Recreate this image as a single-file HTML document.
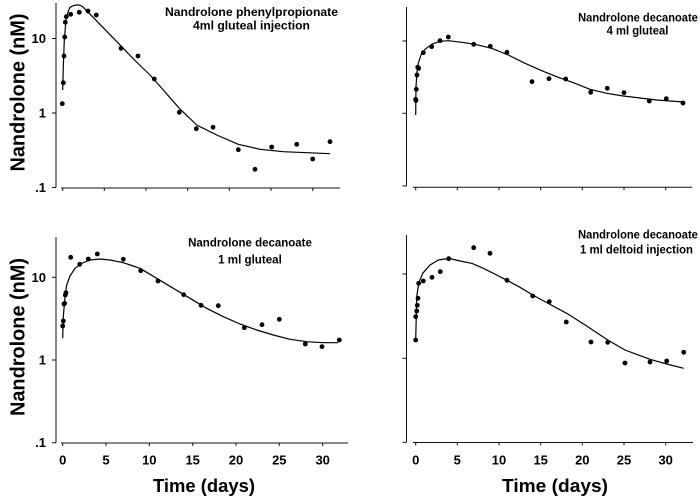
<!DOCTYPE html>
<html>
<head>
<meta charset="utf-8">
<style>
  html, body { margin: 0; padding: 0; background: #ffffff; }
  svg { display: block; }
  text { font-family: "Liberation Sans", Arial, sans-serif; font-weight: bold; fill: #000; }
</style>
</head>
<body>
<svg width="700" height="501" viewBox="0 0 700 501" xmlns="http://www.w3.org/2000/svg">
  <rect x="0" y="0" width="700" height="501" fill="#fff"/>

  <!-- ================= TOP LEFT ================= -->
  <g stroke="#111" stroke-width="1" fill="none">
    <line x1="56" y1="3" x2="56" y2="187.5"/>
    <line x1="52" y1="38.5" x2="56" y2="38.5"/>
    <line x1="52" y1="113" x2="56" y2="113"/>
    <line x1="52" y1="187.5" x2="56" y2="187.5"/>
    <line x1="61" y1="188" x2="340" y2="188"/>
    <line x1="62.7" y1="188" x2="62.7" y2="191"/>
    <line x1="104.3" y1="188" x2="104.3" y2="191"/>
    <line x1="146" y1="188" x2="146" y2="191"/>
    <line x1="187.7" y1="188" x2="187.7" y2="191"/>
    <line x1="229.3" y1="188" x2="229.3" y2="191"/>
    <line x1="271" y1="188" x2="271" y2="191"/>
    <line x1="312.7" y1="188" x2="312.7" y2="191"/>
  </g>
  <text x="46" y="43" font-size="13" text-anchor="end">10</text>
  <text x="46" y="117.5" font-size="13" text-anchor="end">1</text>
  <text x="46" y="192" font-size="13" text-anchor="end">.1</text>
  <text transform="translate(24.5,92.5) rotate(-90)" font-size="20" text-anchor="middle" textLength="158" lengthAdjust="spacingAndGlyphs">Nandrolone (nM)</text>
  <text x="251.5" y="16" font-size="12" text-anchor="middle" textLength="173" lengthAdjust="spacingAndGlyphs">Nandrolone phenylpropionate</text>
  <text x="251.5" y="29.6" font-size="12" text-anchor="middle" textLength="117" lengthAdjust="spacingAndGlyphs">4ml gluteal injection</text>
  <polyline fill="none" stroke="#000" stroke-width="1.2" stroke-linejoin="round" points="62.7,90 63.3,66.7 64.3,40 66,20 68.3,11 70,7.3 73.3,5.7 76.5,5 79.3,5 81.5,6 83.3,7.3 96.3,20.6 110,34.7 121.7,46.7 135,60.5 150,75 163.3,90 179.3,108.3 196.7,125 216.7,135 238.3,144.3 260,149.3 283.3,151.7 306.7,152.7 330,153.7"/>
  <g fill="#000">
    <circle cx="62.3" cy="103.7" r="2.4"/><circle cx="63.3" cy="82.7" r="2.4"/>
    <circle cx="64" cy="56" r="2.4"/><circle cx="64.7" cy="37" r="2.4"/>
    <circle cx="65.3" cy="22.3" r="2.4"/><circle cx="66.3" cy="16.7" r="2.4"/>
    <circle cx="70.7" cy="14.3" r="2.4"/><circle cx="79.3" cy="12.3" r="2.4"/>
    <circle cx="88" cy="11" r="2.4"/><circle cx="96.3" cy="15" r="2.4"/>
    <circle cx="121" cy="48.3" r="2.4"/><circle cx="138" cy="56" r="2.4"/>
    <circle cx="154.3" cy="79" r="2.4"/><circle cx="179.3" cy="112.3" r="2.4"/>
    <circle cx="196.3" cy="128.7" r="2.4"/><circle cx="213" cy="127.3" r="2.4"/>
    <circle cx="238.3" cy="149.7" r="2.4"/><circle cx="255" cy="169.3" r="2.4"/>
    <circle cx="271.7" cy="147" r="2.4"/><circle cx="296.7" cy="144.3" r="2.4"/>
    <circle cx="312.7" cy="159" r="2.4"/><circle cx="330" cy="141.7" r="2.4"/>
  </g>

  <!-- ================= TOP RIGHT ================= -->
  <g stroke="#111" stroke-width="1" fill="none">
    <line x1="406.5" y1="7" x2="406.5" y2="186"/>
    <line x1="402.5" y1="41" x2="406.5" y2="41"/>
    <line x1="402.5" y1="113.3" x2="406.5" y2="113.3"/>
    <line x1="402.5" y1="186" x2="406.5" y2="186"/>
    <line x1="413" y1="187.3" x2="692" y2="187.3"/>
    <line x1="415.7" y1="187.3" x2="415.7" y2="190.3"/>
    <line x1="457.3" y1="187.3" x2="457.3" y2="190.3"/>
    <line x1="499" y1="187.3" x2="499" y2="190.3"/>
    <line x1="540.7" y1="187.3" x2="540.7" y2="190.3"/>
    <line x1="582.3" y1="187.3" x2="582.3" y2="190.3"/>
    <line x1="624" y1="187.3" x2="624" y2="190.3"/>
    <line x1="665.7" y1="187.3" x2="665.7" y2="190.3"/>
  </g>
  <text x="638" y="21.3" font-size="12" text-anchor="middle" textLength="119.7" lengthAdjust="spacingAndGlyphs">Nandrolone decanoate</text>
  <text x="637.5" y="34.6" font-size="12" text-anchor="middle" textLength="61.7" lengthAdjust="spacingAndGlyphs">4 ml gluteal</text>
  <polyline fill="none" stroke="#000" stroke-width="1.2" stroke-linejoin="round" points="415.7,115 416,86.7 417,71.7 418.3,63.3 421,55 425,49.3 431.7,44.3 440,41.3 448.3,40.7 461.7,42.3 475,44.3 491.7,48.3 508.3,55 525,63.3 541.7,70.7 558.3,77.3 575,83.3 590,89.3 606.7,93.3 623.3,96 640,98 656.7,100 683.3,102"/>
  <g fill="#000">
    <circle cx="415.7" cy="99.3" r="2.4"/><circle cx="416" cy="100.5" r="2.4"/>
    <circle cx="416.3" cy="89.3" r="2.4"/><circle cx="417" cy="75" r="2.4"/>
    <circle cx="417.7" cy="67.3" r="2.4"/><circle cx="418.7" cy="68.3" r="2.4"/>
    <circle cx="423.3" cy="52.7" r="2.4"/><circle cx="431.7" cy="46.7" r="2.4"/>
    <circle cx="440" cy="40.7" r="2.4"/><circle cx="448.3" cy="37" r="2.4"/>
    <circle cx="473.7" cy="44.3" r="2.4"/><circle cx="490.3" cy="46.3" r="2.4"/>
    <circle cx="507" cy="52.3" r="2.4"/><circle cx="532" cy="81.7" r="2.4"/>
    <circle cx="549" cy="78.7" r="2.4"/><circle cx="565.7" cy="79" r="2.4"/>
    <circle cx="590.7" cy="92.3" r="2.4"/><circle cx="607.3" cy="88.3" r="2.4"/>
    <circle cx="624" cy="92.7" r="2.4"/><circle cx="649.3" cy="101" r="2.4"/>
    <circle cx="666.3" cy="98.7" r="2.4"/><circle cx="683" cy="103" r="2.4"/>
  </g>

  <!-- ================= BOTTOM LEFT ================= -->
  <g stroke="#111" stroke-width="1" fill="none">
    <line x1="56" y1="237" x2="56" y2="442.7"/>
    <line x1="52" y1="277.3" x2="56" y2="277.3"/>
    <line x1="52" y1="360" x2="56" y2="360"/>
    <line x1="52" y1="442.7" x2="56" y2="442.7"/>
    <line x1="61" y1="443" x2="348" y2="443"/>
    <line x1="62.7" y1="443" x2="62.7" y2="446"/>
    <line x1="106" y1="443" x2="106" y2="446"/>
    <line x1="149.3" y1="443" x2="149.3" y2="446"/>
    <line x1="192.7" y1="443" x2="192.7" y2="446"/>
    <line x1="236" y1="443" x2="236" y2="446"/>
    <line x1="279.3" y1="443" x2="279.3" y2="446"/>
    <line x1="322.7" y1="443" x2="322.7" y2="446"/>
  </g>
  <text x="46" y="282" font-size="13" text-anchor="end">10</text>
  <text x="46" y="364.5" font-size="13" text-anchor="end">1</text>
  <text x="46" y="447.2" font-size="13" text-anchor="end">.1</text>
  <g font-size="13" text-anchor="middle">
    <text x="62.7" y="464.5">0</text>
    <text x="106" y="464.5">5</text>
    <text x="149.3" y="464.5">10</text>
    <text x="192.7" y="464.5">15</text>
    <text x="236" y="464.5">20</text>
    <text x="279.3" y="464.5">25</text>
    <text x="322.7" y="464.5">30</text>
  </g>
  <text transform="translate(24.5,337) rotate(-90)" font-size="20" text-anchor="middle" textLength="158" lengthAdjust="spacingAndGlyphs">Nandrolone (nM)</text>
  <text x="204" y="492" font-size="18" text-anchor="middle" textLength="102" lengthAdjust="spacingAndGlyphs">Time (days)</text>
  <text x="250" y="246.5" font-size="12" text-anchor="middle" textLength="123.7" lengthAdjust="spacingAndGlyphs">Nandrolone decanoate</text>
  <text x="250" y="263.5" font-size="12" text-anchor="middle" textLength="63.7" lengthAdjust="spacingAndGlyphs">1 ml gluteal</text>
  <polyline fill="none" stroke="#000" stroke-width="1.2" stroke-linejoin="round" points="62.7,338.3 63.3,316.7 65,296.7 66.7,285 70,276 75,268.3 81.7,263.3 90,260 100,259 110,260 123.3,262.7 140,268.3 156.7,278.3 173.3,288.3 190,298.3 206.7,308.3 223.3,316.7 240,324 256.7,330 273.3,335 290,339.3 306.7,341.7 323.3,342.7 338.3,342.7"/>
  <g fill="#000">
    <circle cx="62.7" cy="326" r="2.4"/><circle cx="63.3" cy="321" r="2.4"/>
    <circle cx="64" cy="304" r="2.4"/><circle cx="64.7" cy="303.3" r="2.4"/>
    <circle cx="65.3" cy="295" r="2.4"/><circle cx="66" cy="292.7" r="2.4"/>
    <circle cx="70.7" cy="257.3" r="2.4"/><circle cx="79.7" cy="264.3" r="2.4"/>
    <circle cx="88.3" cy="259" r="2.4"/><circle cx="97.3" cy="254" r="2.4"/>
    <circle cx="123.3" cy="259.3" r="2.4"/><circle cx="140.7" cy="270.7" r="2.4"/>
    <circle cx="158" cy="281" r="2.4"/><circle cx="183.7" cy="294.7" r="2.4"/>
    <circle cx="201" cy="305.3" r="2.4"/><circle cx="218.3" cy="305.7" r="2.4"/>
    <circle cx="244.3" cy="327.7" r="2.4"/><circle cx="262" cy="324.7" r="2.4"/>
    <circle cx="279.3" cy="319.3" r="2.4"/><circle cx="305.3" cy="344" r="2.4"/>
    <circle cx="322" cy="346.7" r="2.4"/><circle cx="339.3" cy="340" r="2.4"/>
  </g>

  <!-- ================= BOTTOM RIGHT ================= -->
  <g stroke="#111" stroke-width="1" fill="none">
    <line x1="406.5" y1="235" x2="406.5" y2="442.3"/>
    <line x1="402.5" y1="274" x2="406.5" y2="274"/>
    <line x1="402.5" y1="358.3" x2="406.5" y2="358.3"/>
    <line x1="402.5" y1="442.3" x2="406.5" y2="442.3"/>
    <line x1="413" y1="442.5" x2="693" y2="442.5"/>
    <line x1="415.7" y1="442.5" x2="415.7" y2="445.5"/>
    <line x1="457.3" y1="442.5" x2="457.3" y2="445.5"/>
    <line x1="499" y1="442.5" x2="499" y2="445.5"/>
    <line x1="540.7" y1="442.5" x2="540.7" y2="445.5"/>
    <line x1="582.3" y1="442.5" x2="582.3" y2="445.5"/>
    <line x1="624" y1="442.5" x2="624" y2="445.5"/>
    <line x1="665.7" y1="442.5" x2="665.7" y2="445.5"/>
  </g>
  <g font-size="13" text-anchor="middle">
    <text x="415.7" y="464.5">0</text>
    <text x="457.3" y="464.5">5</text>
    <text x="499" y="464.5">10</text>
    <text x="540.7" y="464.5">15</text>
    <text x="582.3" y="464.5">20</text>
    <text x="624" y="464.5">25</text>
    <text x="665.7" y="464.5">30</text>
  </g>
  <text x="555" y="492" font-size="18" text-anchor="middle" textLength="106" lengthAdjust="spacingAndGlyphs">Time (days)</text>
  <text x="638" y="238.6" font-size="12" text-anchor="middle" textLength="119.7" lengthAdjust="spacingAndGlyphs">Nandrolone decanoate</text>
  <text x="636.5" y="253.6" font-size="12" text-anchor="middle" textLength="113" lengthAdjust="spacingAndGlyphs">1 ml deltoid injection</text>
  <polyline fill="none" stroke="#000" stroke-width="1.2" stroke-linejoin="round" points="415.7,340 416.7,296.7 418.7,283.3 422.7,273.3 430,265 438.3,260 445,259 451.7,259 460,261 471.7,263.3 483.3,268.3 496.7,275 507,280.3 520,287.3 532.7,295 549.3,304 566.7,313.3 586.7,326 607.7,340 625,350 650,359.3 666.7,364 683.7,368.3"/>
  <g fill="#000">
    <circle cx="415.7" cy="340" r="2.4"/><circle cx="415.7" cy="316.7" r="2.4"/>
    <circle cx="416.7" cy="311" r="2.4"/><circle cx="417.3" cy="305.3" r="2.4"/>
    <circle cx="418" cy="298.3" r="2.4"/><circle cx="418.7" cy="283.3" r="2.4"/>
    <circle cx="423.3" cy="281" r="2.4"/><circle cx="432" cy="277.3" r="2.4"/>
    <circle cx="440.3" cy="271.7" r="2.4"/><circle cx="448.7" cy="258.7" r="2.4"/>
    <circle cx="473.7" cy="247.7" r="2.4"/><circle cx="490" cy="253.3" r="2.4"/>
    <circle cx="507" cy="280.3" r="2.4"/><circle cx="532.7" cy="296" r="2.4"/>
    <circle cx="549.3" cy="301.7" r="2.4"/><circle cx="566.3" cy="322" r="2.4"/>
    <circle cx="591" cy="342" r="2.4"/><circle cx="607.7" cy="342.3" r="2.4"/>
    <circle cx="625" cy="363" r="2.4"/><circle cx="650" cy="362" r="2.4"/>
    <circle cx="666.7" cy="361" r="2.4"/><circle cx="683.7" cy="352.3" r="2.4"/>
  </g>
</svg>
</body>
</html>
